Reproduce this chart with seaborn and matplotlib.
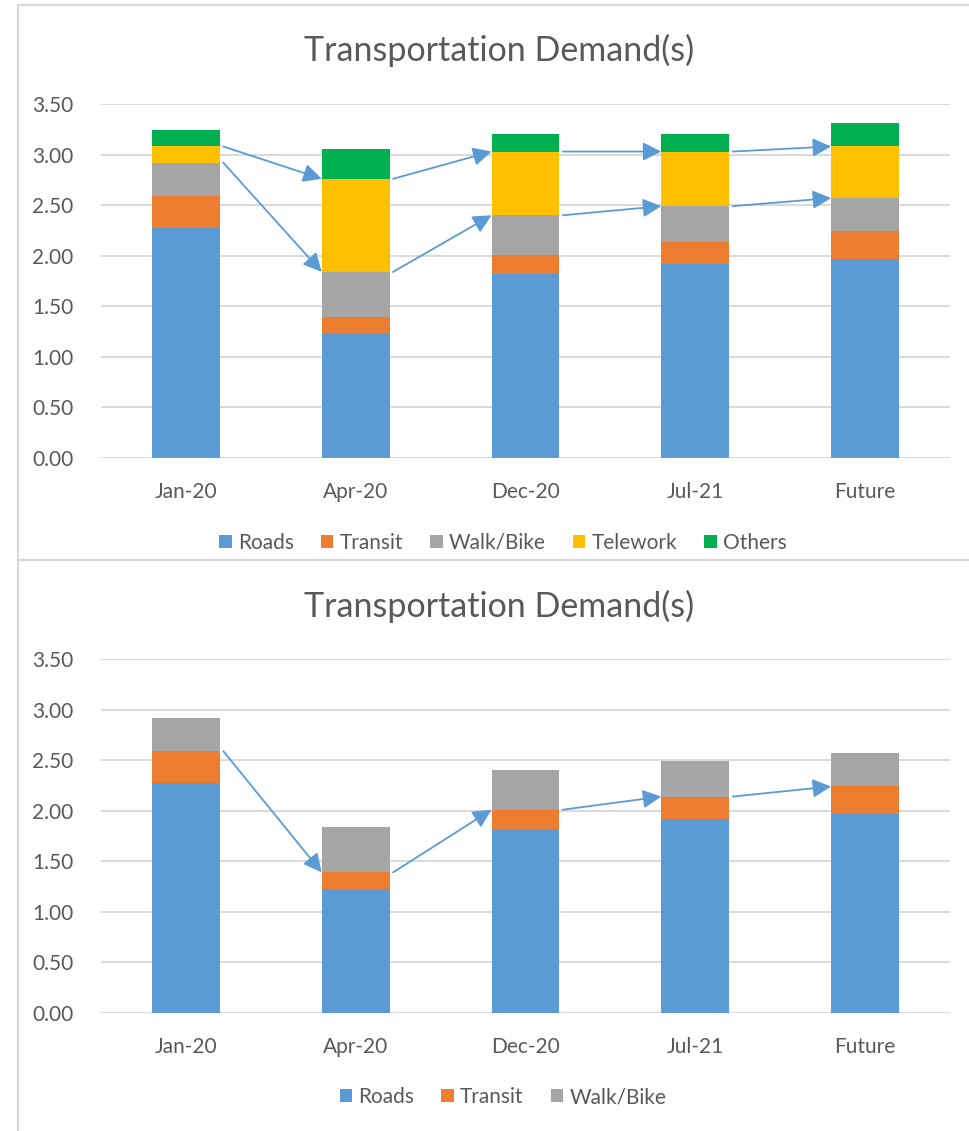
import numpy as np
import pandas as pd
import matplotlib
matplotlib.use("Agg")
import matplotlib.pyplot as plt
from matplotlib.patches import Patch, Rectangle
import seaborn as sns

# Demand by mode for each period
periods = ["Jan-20", "Apr-20", "Dec-20", "Jul-21", "Future"]
roads = [2.27, 1.23, 1.82, 1.92, 1.97]
transit = [0.32, 0.16, 0.19, 0.22, 0.27]
walk_bike = [0.33, 0.45, 0.39, 0.35, 0.33]
telework = [0.16, 0.92, 0.63, 0.54, 0.51]
others = [0.16, 0.30, 0.17, 0.17, 0.23]

modes = ["Roads", "Transit", "Walk/Bike", "Telework", "Others"]
colors = {"Roads": "#5B9BD5", "Transit": "#ED7D31", "Walk/Bike": "#A5A5A5",
          "Telework": "#FFC000", "Others": "#00B050"}
yticks = [0.0, 0.5, 1.0, 1.5, 2.0, 2.5, 3.0, 3.5]

series = {"Roads": roads, "Transit": transit, "Walk/Bike": walk_bike,
          "Telework": telework, "Others": others}

sns.set_theme(style="white")
plt.rcParams["font.family"] = ["Lato", "DejaVu Sans"]
TXT = "#595959"
GRID = "#D9D9D9"
ARROW = "#5B9BD5"

W, H = 970, 1131
fig = plt.figure(figsize=(W / 100, H / 100), dpi=100)


def px_axes(left, right, top, bottom):
    return fig.add_axes([left / W, 1 - bottom / H, (right - left) / W, (bottom - top) / H])


def stacked_chart(ax, layer_names, arrow_levels, title_y, legend_y):
    df = pd.DataFrame({"period": periods})
    for m in layer_names:
        df[m] = series[m]
    cum = df[layer_names].cumsum(axis=1)
    # draw cumulative totals from the tallest down so each segment shows its own colour
    for m in reversed(layer_names):
        sns.barplot(x=df["period"], y=cum[m], color=colors[m], width=0.4,
                    saturation=1, linewidth=0, ax=ax, order=periods)
    ax.set_ylim(0, 3.5)
    ax.set_xlim(-0.5, len(periods) - 0.5)
    ax.set_yticks(yticks)
    ax.set_yticklabels([f"{v:.2f}" for v in yticks])
    ax.set_axisbelow(True)
    ax.yaxis.grid(True, color=GRID, lw=1.4)
    ax.xaxis.grid(False)
    for s in ax.spines.values():
        s.set_visible(False)
    ax.tick_params(axis="both", length=0, labelsize=15, colors=TXT)
    ax.tick_params(axis="y", pad=20)
    ax.tick_params(axis="x", pad=17)
    ax.set_xlabel("")
    ax.set_ylabel("")
    fig.text(499 / W, 1 - title_y / H, "Transportation Demand(s)", fontsize=24.5,
             color=TXT, ha="center", va="center")

    # arrows linking segment tops between consecutive periods
    for m in arrow_levels:
        level = cum[m].to_numpy()
        for i in range(len(periods) - 1):
            ax.annotate("", xy=(i + 1 - 0.2, level[i + 1]), xytext=(i + 0.22, level[i]),
                        arrowprops=dict(arrowstyle="-|>", color=ARROW, lw=1.3,
                                        mutation_scale=28, shrinkA=0, shrinkB=0))

    handles = [Patch(facecolor=colors[m], edgecolor="none", label=m) for m in layer_names]
    fig.legend(handles=handles, loc="center", bbox_to_anchor=(503 / W, 1 - legend_y / H),
               ncol=len(layer_names), frameon=False, fontsize=15, labelcolor=TXT,
               handlelength=0.6, handleheight=0.6, handletextpad=0.3, columnspacing=1.3)


ax1 = px_axes(101, 950, 104, 458)
stacked_chart(ax1, ["Roads", "Transit", "Walk/Bike", "Telework", "Others"],
              ["Telework", "Walk/Bike"], title_y=50, legend_y=543)

ax2 = px_axes(101, 950, 659, 1013)
stacked_chart(ax2, ["Roads", "Transit", "Walk/Bike"], ["Transit"],
              title_y=606, legend_y=1097)

# chart frames
for top, bottom in [(5, 560), (560, H + 10)]:
    fig.add_artist(Rectangle((18 / W, 1 - bottom / H), (W + 20 - 18) / W, (bottom - top) / H,
                             transform=fig.transFigure, fill=False, edgecolor=GRID, lw=1.6))

fig.savefig("out.png", dpi=100, facecolor="white")
